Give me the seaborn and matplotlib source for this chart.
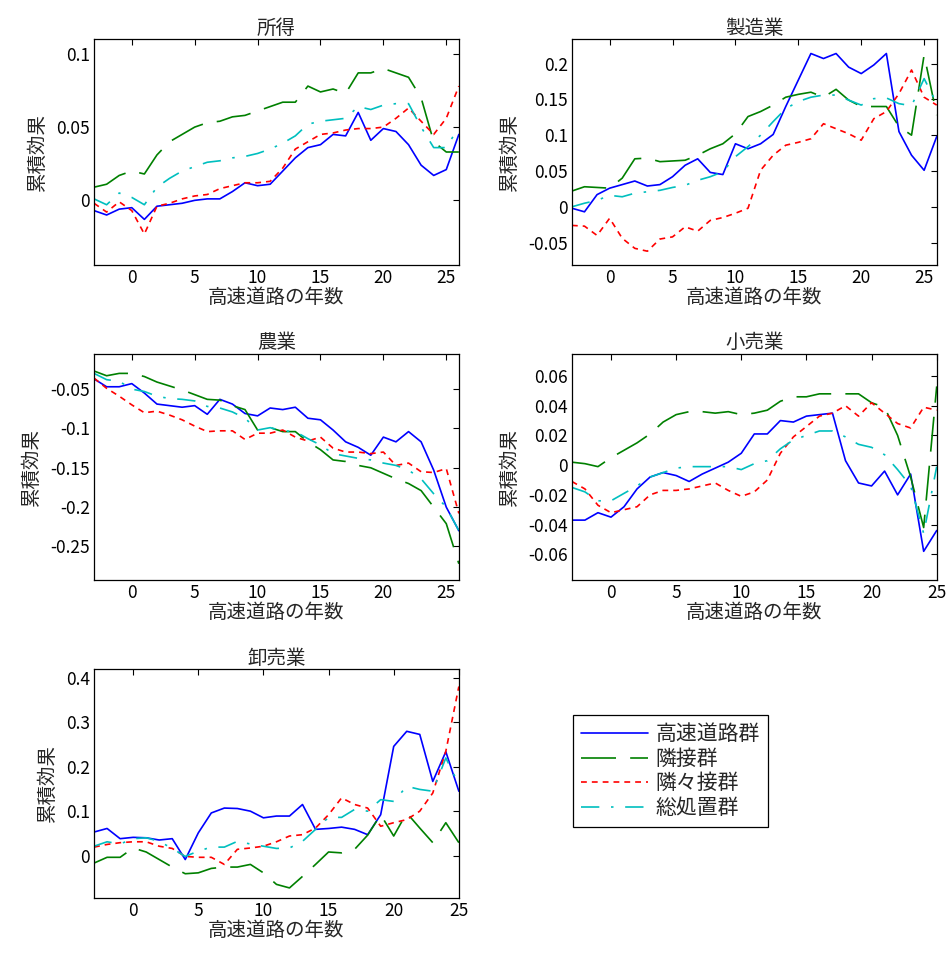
import matplotlib
matplotlib.use("Agg")
import matplotlib.pyplot as plt
import seaborn as sns
from matplotlib.ticker import FuncFormatter

# x axis (years since the expressway opened)
years_long = list(range(-3, 27))
years_short = list(range(-3, 26))

group_names = ["高速道路群", "隣接群", "隣々接群", "総処置群"]

# 所得
income_hwy = [-0.007, -0.010, -0.006, -0.005, -0.013, -0.004, -0.003, -0.002, 0.000, 0.001,
              0.001, 0.006, 0.012, 0.010, 0.011, 0.020, 0.029, 0.036, 0.038, 0.045,
              0.044, 0.060, 0.041, 0.049, 0.047, 0.038, 0.024, 0.017, 0.021, 0.045]
income_adj = [0.009, 0.011, 0.017, 0.020, 0.018, 0.031, 0.040, 0.045, 0.050, 0.053,
              0.054, 0.057, 0.058, 0.061, 0.064, 0.067, 0.067, 0.078, 0.074, 0.076,
              0.073, 0.087, 0.087, 0.090, 0.087, 0.084, 0.070, 0.040, 0.033, 0.033]
income_adj2 = [-0.002, -0.008, -0.001, -0.007, -0.023, -0.004, -0.002, 0.001, 0.003, 0.004,
               0.008, 0.010, 0.012, 0.012, 0.013, 0.022, 0.035, 0.040, 0.045, 0.046,
               0.048, 0.049, 0.049, 0.050, 0.056, 0.063, 0.054, 0.045, 0.056, 0.078]
income_all = [0.001, -0.003, 0.005, 0.002, -0.003, 0.009, 0.015, 0.020, 0.023, 0.026,
              0.027, 0.029, 0.030, 0.032, 0.035, 0.039, 0.044, 0.052, 0.054, 0.055,
              0.056, 0.064, 0.062, 0.065, 0.066, 0.066, 0.050, 0.036, 0.036, 0.050]

# 製造業
manuf_hwy = [-0.002, -0.007, 0.017, 0.026, 0.031, 0.036, 0.029, 0.031, 0.042, 0.058,
             0.067, 0.048, 0.045, 0.088, 0.081, 0.088, 0.101, 0.140, 0.177, 0.214,
             0.207, 0.214, 0.195, 0.186, 0.198, 0.214, 0.105, 0.072, 0.051, 0.098]
manuf_adj = [0.022, 0.028, 0.027, 0.026, 0.040, 0.067, 0.068, 0.063, 0.064, 0.065,
             0.072, 0.081, 0.088, 0.102, 0.126, 0.133, 0.142, 0.153, 0.157, 0.160,
             0.153, 0.164, 0.149, 0.140, 0.140, 0.140, 0.112, 0.100, 0.212, 0.128]
manuf_adj2 = [-0.026, -0.027, -0.040, -0.016, -0.044, -0.058, -0.062, -0.045, -0.042, -0.028,
              -0.034, -0.019, -0.015, -0.009, -0.002, 0.051, 0.072, 0.086, 0.090, 0.095,
              0.116, 0.109, 0.102, 0.093, 0.123, 0.133, 0.158, 0.191, 0.153, 0.142]
manuf_all = [0.000, 0.005, 0.009, 0.016, 0.014, 0.019, 0.021, 0.023, 0.027, 0.030,
             0.037, 0.042, 0.049, 0.070, 0.084, 0.100, 0.119, 0.137, 0.147, 0.153,
             0.156, 0.156, 0.149, 0.142, 0.151, 0.152, 0.144, 0.141, 0.179, 0.144]

# 農業
agri_hwy = [-0.037, -0.047, -0.047, -0.043, -0.055, -0.069, -0.071, -0.073, -0.071, -0.082,
            -0.063, -0.069, -0.081, -0.084, -0.074, -0.076, -0.073, -0.087, -0.089, -0.102,
            -0.117, -0.124, -0.134, -0.111, -0.117, -0.104, -0.117, -0.153, -0.200, -0.230]
agri_adj = [-0.027, -0.033, -0.030, -0.030, -0.034, -0.041, -0.046, -0.051, -0.057, -0.063,
            -0.064, -0.071, -0.076, -0.102, -0.099, -0.104, -0.104, -0.117, -0.127, -0.140,
            -0.142, -0.147, -0.150, -0.157, -0.164, -0.170, -0.179, -0.200, -0.221, -0.272]
agri_adj2 = [-0.036, -0.049, -0.059, -0.070, -0.080, -0.078, -0.083, -0.089, -0.097, -0.104,
             -0.103, -0.103, -0.114, -0.106, -0.106, -0.102, -0.111, -0.116, -0.111, -0.125,
             -0.130, -0.130, -0.132, -0.130, -0.147, -0.144, -0.155, -0.156, -0.151, -0.208]
agri_all = [-0.030, -0.038, -0.040, -0.050, -0.053, -0.059, -0.062, -0.063, -0.065, -0.072,
            -0.074, -0.079, -0.087, -0.102, -0.099, -0.103, -0.104, -0.113, -0.121, -0.132,
            -0.135, -0.138, -0.140, -0.144, -0.147, -0.153, -0.164, -0.183, -0.200, -0.230]

# 小売業
retail_hwy = [-0.037, -0.037, -0.032, -0.035, -0.028, -0.016, -0.008, -0.005, -0.007, -0.011,
              -0.006, -0.002, 0.002, 0.008, 0.021, 0.021, 0.030, 0.029, 0.033, 0.034,
              0.035, 0.003, -0.012, -0.014, -0.004, -0.020, -0.006, -0.058, -0.044]
retail_adj = [0.002, 0.001, -0.001, 0.005, 0.010, 0.015, 0.021, 0.029, 0.034, 0.036,
              0.036, 0.035, 0.036, 0.034, 0.035, 0.037, 0.043, 0.046, 0.046, 0.048,
              0.048, 0.048, 0.048, 0.042, 0.039, 0.020, -0.008, -0.042, 0.053]
retail_adj2 = [-0.011, -0.016, -0.027, -0.032, -0.030, -0.028, -0.020, -0.017, -0.017, -0.016,
               -0.014, -0.012, -0.017, -0.021, -0.018, -0.010, 0.008, 0.019, 0.026, 0.033,
               0.035, 0.040, 0.033, 0.042, 0.035, 0.028, 0.025, 0.039, 0.037]
retail_all = [-0.015, -0.018, -0.024, -0.024, -0.019, -0.014, -0.008, -0.005, -0.002, -0.001,
              -0.001, -0.001, -0.001, -0.003, 0.001, 0.003, 0.011, 0.017, 0.020, 0.023,
              0.023, 0.019, 0.014, 0.012, 0.007, -0.003, -0.014, -0.046, -0.001]

# 卸売業
whole_hwy = [0.053, 0.061, 0.038, 0.041, 0.040, 0.035, 0.038, -0.009, 0.051, 0.096,
             0.107, 0.106, 0.100, 0.085, 0.089, 0.089, 0.115, 0.059, 0.061, 0.064,
             0.059, 0.047, 0.092, 0.246, 0.280, 0.273, 0.167, 0.234, 0.145]
whole_adj = [-0.017, -0.004, -0.004, 0.017, 0.008, -0.009, -0.026, -0.041, -0.039, -0.029,
             -0.026, -0.026, -0.020, -0.039, -0.065, -0.073, -0.047, -0.020, 0.008, 0.006,
             0.014, 0.046, 0.092, 0.044, 0.096, 0.062, 0.029, 0.074, 0.029]
whole_adj2 = [0.019, 0.025, 0.029, 0.031, 0.031, 0.021, 0.016, -0.002, -0.004, -0.004,
              -0.020, 0.014, 0.017, 0.021, 0.031, 0.044, 0.047, 0.062, 0.092, 0.130,
              0.115, 0.107, 0.066, 0.074, 0.081, 0.100, 0.141, 0.235, 0.381]
whole_all = [0.021, 0.031, 0.026, 0.038, 0.040, 0.032, 0.016, -0.002, 0.010, 0.019,
             0.019, 0.032, 0.026, 0.021, 0.016, 0.017, 0.032, 0.059, 0.086, 0.086,
             0.104, 0.100, 0.126, 0.122, 0.156, 0.149, 0.145, 0.220, 0.160]

colors = ["#0000ff", "#008000", "#ff0000", "#00bfbf"]
styles = ["-", (0, (21, 8.5)), (0, (3.5, 3)), (0, (11, 7, 1.5, 7))]

panels = [
    ("所得", years_long, [income_hwy, income_adj, income_adj2, income_all],
     (-3, 26), (-0.044, 0.11), [0, 0.05, 0.1], [0.099, 0.723, 0.384, 0.236]),
    ("製造業", years_long, [manuf_hwy, manuf_adj, manuf_adj2, manuf_all],
     (-3, 26), (-0.081, 0.234), [-0.05, 0, 0.05, 0.1, 0.15, 0.2], [0.602, 0.723, 0.384, 0.236]),
    ("農業", years_long, [agri_hwy, agri_adj, agri_adj2, agri_all],
     (-3, 26), (-0.293, -0.005), [-0.25, -0.2, -0.15, -0.1, -0.05], [0.099, 0.393, 0.384, 0.237]),
    ("小売業", years_short, [retail_hwy, retail_adj, retail_adj2, retail_all],
     (-3, 25), (-0.0775, 0.075), [-0.06, -0.04, -0.02, 0, 0.02, 0.04, 0.06], [0.602, 0.393, 0.384, 0.237]),
    ("卸売業", years_short, [whole_hwy, whole_adj, whole_adj2, whole_all],
     (-3, 25), (-0.095, 0.42), [0, 0.1, 0.2, 0.3, 0.4], [0.099, 0.061, 0.384, 0.239]),
]

sns.set_style("white")
plt.rcParams["font.family"] = ["Noto Sans CJK JP", "DejaVu Sans"]
plt.rcParams["font.size"] = 14

fig = plt.figure(figsize=(9.5, 9.56), dpi=100)

fmt = FuncFormatter(lambda v, pos: f"{round(v, 4) + 0:g}")

for title, years, series, xlim, ylim, yticks, rect in panels:
    ax = fig.add_axes(rect)
    for vals, name, c, ls in zip(series, group_names, colors, styles):
        sns.lineplot(x=years, y=vals, ax=ax, color=c, linestyle=ls, lw=1.2,
                     label=name, legend=False)
    ax.set_xlim(*xlim)
    ax.set_ylim(*ylim)
    ax.set_xticks([0, 5, 10, 15, 20, 25])
    ax.set_yticks(yticks)
    ax.yaxis.set_major_formatter(fmt)
    ax.tick_params(direction="in", top=True, right=True, length=4, width=0.8,
                   labelsize=12.5, colors="black", pad=3)
    for sp in ax.spines.values():
        sp.set_color("black")
        sp.set_linewidth(0.9)
    ax.set_title(title, fontsize=14, pad=4)
    ax.set_xlabel("高速道路の年数", fontsize=14, labelpad=0)
    ax.set_ylabel("累積効果", fontsize=14, labelpad=6)
    handles, labels = ax.get_legend_handles_labels()

leg = fig.legend(handles, labels, loc="upper left", bbox_to_anchor=(573 / 950, 1 - 715 / 956),
                 frameon=True, fancybox=False, edgecolor="black", framealpha=1,
                 borderaxespad=0, handlelength=3.2, handletextpad=0.35,
                 labelspacing=0.12, borderpad=0.4, fontsize=15)
leg.get_frame().set_linewidth(0.9)

fig.savefig("out.png", dpi=100)
